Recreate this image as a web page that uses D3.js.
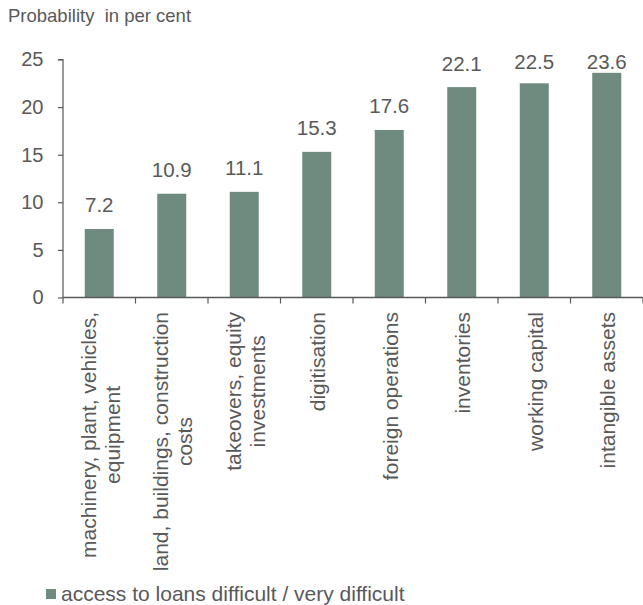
<!DOCTYPE html>
<html>
<head>
<meta charset="utf-8">
<script src="https://cdn.jsdelivr.net/npm/d3@7"></script>
<style>
  html, body { margin: 0; padding: 0; background: #fff; }
  svg { display: block; font-family: "Liberation Sans", Arial, sans-serif; }
</style>
</head>
<body>
<svg id="chart" width="643" height="605"></svg>
<script>
// Financing purposes and the share reporting difficult loan access
const categories = [
  ["machinery, plant, vehicles,", "equipment"],
  ["land, buildings, construction", "costs"],
  ["takeovers, equity", "investments"],
  ["digitisation"],
  ["foreign operations"],
  ["inventories"],
  ["working capital"],
  ["intangible assets"]
];
const values = [7.2, 10.9, 11.1, 15.3, 17.6, 22.1, 22.5, 23.6];
const yTicks = [0, 5, 10, 15, 20, 25];
const yTitle = "Probability  in per cent";
const seriesName = "access to loans difficult / very difficult";

const textColor = "#595959";
const barColor = "#6f8a7e";

const svg = d3.select("#chart");
const plotLeft = 63, plotRight = 643, plotTop = 59.5, plotBottom = 297.5;

const x = d3.scaleBand()
  .domain(d3.range(categories.length))
  .range([plotLeft, plotRight])
  .padding(0);

const y = d3.scaleLinear().domain([0, 25]).range([plotBottom, plotTop]);

// Bars
const barW = x.bandwidth() * 0.4;
svg.append("g").selectAll("rect")
  .data(values)
  .join("rect")
  .attr("x", (d, i) => x(i) + (x.bandwidth() - barW) / 2)
  .attr("y", d => y(d))
  .attr("width", barW)
  .attr("height", d => y(0) - y(d))
  .attr("fill", barColor);

// Value labels, kept inside the top of the plot area
svg.append("g").selectAll("text")
  .data(values)
  .join("text")
  .attr("x", (d, i) => x(i) + x.bandwidth() / 2)
  .attr("y", d => Math.max(y(d) - 16.5, 69))
  .attr("text-anchor", "middle")
  .attr("font-size", 20.5)
  .attr("fill", textColor)
  .text(d => d.toFixed(1));

// Y axis
const yAxis = svg.append("g")
  .attr("transform", `translate(${plotLeft},0)`)
  .call(d3.axisLeft(y).tickValues(yTicks).tickSize(5).tickPadding(14.5).tickFormat(d3.format("d")));
yAxis.select(".domain").attr("stroke", textColor).attr("stroke-width", 1.2).attr("d", `M-5,${plotTop}H0V${plotBottom}`);
yAxis.selectAll(".tick line").attr("stroke", textColor).attr("stroke-width", 1.2);
yAxis.selectAll(".tick text")
  .attr("fill", textColor)
  .attr("font-size", 20)
  .attr("font-family", "Liberation Sans, Arial, sans-serif");

// X axis with ticks on band boundaries
const xAxisG = svg.append("g");
xAxisG.append("line")
  .attr("x1", plotLeft).attr("x2", plotRight)
  .attr("y1", plotBottom).attr("y2", plotBottom)
  .attr("stroke", textColor).attr("stroke-width", 1.5);
xAxisG.selectAll("line.tk")
  .data(d3.range(categories.length + 1))
  .join("line")
  .attr("class", "tk")
  .attr("x1", i => i < categories.length ? x(i) : plotRight)
  .attr("x2", i => i < categories.length ? x(i) : plotRight)
  .attr("y1", plotBottom).attr("y2", plotBottom + 6)
  .attr("stroke", textColor).attr("stroke-width", 1.2);

// Rotated category labels, block top-aligned below the axis, lines centred
const labelTop = 312;
const lineH = 24;
categories.forEach((lines, i) => {
  const cx = x(i) + x.bandwidth() / 2;
  const g = svg.append("g");
  const texts = lines.map(ln => g.append("text")
    .attr("font-size", 21)
    .attr("fill", textColor)
    .attr("text-anchor", "middle")
    .text(ln));
  const maxLen = d3.max(texts, t => t.node().getComputedTextLength());
  const n = lines.length;
  texts.forEach((t, k) => {
    const off = (k - (n - 1) / 2) * lineH;
    const px = cx + off + 8.5;
    const py = labelTop + maxLen / 2;
    t.attr("transform", `translate(${px},${py}) rotate(-90)`);
  });
});

// Y title
svg.append("text")
  .attr("x", 8).attr("y", 22)
  .attr("font-size", 18.5)
  .attr("fill", textColor)
  .style("white-space", "pre")
  .text(yTitle);

// Legend
svg.append("rect")
  .attr("x", 46).attr("y", 589)
  .attr("width", 10).attr("height", 10)
  .attr("fill", barColor);
svg.append("text")
  .attr("x", 61).attr("y", 601)
  .attr("font-size", 21)
  .attr("fill", textColor)
  .text(seriesName);
</script>
</body>
</html>
